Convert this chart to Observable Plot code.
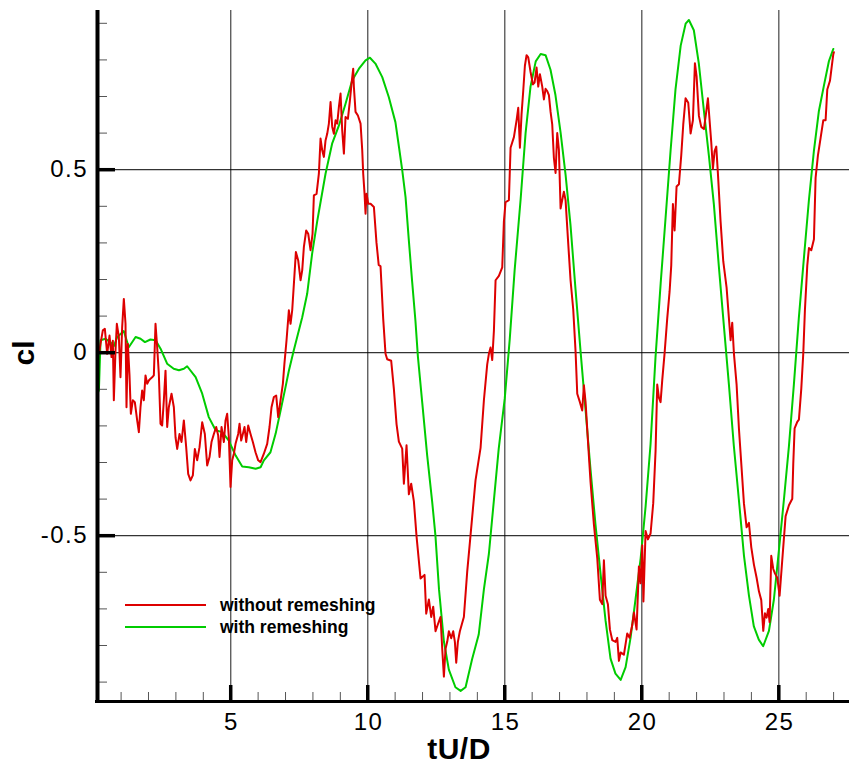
<!DOCTYPE html>
<html><head><meta charset="utf-8">
<script src="https://cdn.jsdelivr.net/npm/d3@7"></script>
<script src="https://cdn.jsdelivr.net/npm/@observablehq/plot@0.6"></script>
<style>
html,body{margin:0;padding:0;background:#fff;overflow:hidden;}
#wrap{position:relative;width:849px;height:765px;font-family:"Liberation Sans",Arial,Helvetica,sans-serif;}
#wrap svg{display:block;}
.lab{position:absolute;font-weight:bold;color:#000;white-space:nowrap;line-height:1;}
.leg{position:absolute;left:125px;width:81px;height:2px;}
</style></head><body><div id="wrap"></div>
<script>
// ---- data ----
const redT = [0.20,0.248,0.334,0.407,0.492,0.577,0.650,0.699,0.735,0.796,0.845,0.918,0.978,1.039,1.100,1.161,1.197,1.246,1.307,1.356,1.428,1.501,1.587,1.648,1.708,1.769,1.830,1.891,1.952,2.012,2.073,2.134,2.195,2.256,2.317,2.377,2.438,2.499,2.560,2.621,2.682,2.742,2.840,2.925,2.986,3.047,3.132,3.205,3.290,3.375,3.448,3.533,3.618,3.691,3.776,3.862,3.959,4.056,4.141,4.227,4.299,4.385,4.470,4.543,4.592,4.665,4.750,4.811,4.871,4.932,4.993,5.054,5.115,5.176,5.273,5.322,5.382,5.443,5.504,5.565,5.638,5.723,5.808,5.905,6.003,6.088,6.210,6.331,6.416,6.489,6.575,6.660,6.733,6.818,6.903,6.96,7.037,7.122,7.183,7.244,7.329,7.378,7.463,7.548,7.609,7.670,7.755,7.828,7.913,7.986,8.035,8.132,8.217,8.278,8.339,8.400,8.460,8.521,8.582,8.643,8.704,8.765,8.826,8.886,8.947,9.008,9.069,9.130,9.190,9.276,9.349,9.409,9.470,9.495,9.555,9.641,9.738,9.799,9.835,9.884,9.920,9.957,10.018,10.103,10.225,10.32,10.40,10.467,10.564,10.649,10.710,10.856,10.954,11.051,11.136,11.258,11.319,11.416,11.501,11.586,11.684,11.781,11.927,12.073,12.134,12.231,12.316,12.389,12.474,12.560,12.657,12.718,12.779,12.839,12.900,12.961,13.046,13.119,13.180,13.229,13.289,13.362,13.508,13.630,13.751,13.934,14.117,14.239,14.360,14.421,14.482,14.543,14.604,14.665,14.786,14.908,14.969,15.029,15.151,15.212,15.334,15.431,15.492,15.553,15.613,15.674,15.735,15.796,15.857,15.942,16.027,16.088,16.161,16.222,16.283,16.368,16.429,16.489,16.550,16.611,16.672,16.733,16.793,16.854,16.915,16.976,17.037,17.097,17.158,17.219,17.304,17.401,17.499,17.584,17.645,17.742,17.827,17.888,17.949,18.034,18.131,18.253,18.375,18.472,18.557,18.618,18.679,18.764,18.837,18.922,19.044,19.105,19.166,19.226,19.348,19.470,19.555,19.653,19.713,19.810,19.895,19.956,20.017,20.06,20.139,20.224,20.321,20.418,20.504,20.564,20.625,20.686,20.747,20.832,20.929,21.014,21.075,21.136,21.197,21.270,21.355,21.440,21.513,21.598,21.696,21.781,21.866,21.939,22.000,22.085,22.170,22.268,22.353,22.413,22.474,22.535,22.596,22.657,22.718,22.778,22.876,22.973,23.095,23.180,23.241,23.301,23.362,23.460,23.545,23.642,23.727,23.825,23.910,23.995,24.092,24.190,24.275,24.360,24.433,24.494,24.555,24.615,24.664,24.725,24.798,24.859,24.944,25.029,25.126,25.248,25.370,25.492,25.528,25.577,25.674,25.734,25.820,25.893,25.954,26.039,26.100,26.185,26.282,26.343,26.428,26.526,26.623,26.708,26.769,26.867,26.927,26.988,27.01];
const redCl = [0.000,0.024,0.061,0.065,-0.003,0.047,-0.012,0.033,-0.130,0.006,0.079,0.043,-0.067,0.070,0.147,0.079,-0.149,0.024,-0.062,-0.167,-0.130,-0.135,-0.185,-0.217,-0.149,-0.103,-0.130,-0.062,-0.085,-0.076,-0.071,-0.067,-0.062,0.079,0.015,-0.058,-0.194,-0.199,-0.130,-0.049,-0.203,-0.149,-0.112,-0.149,-0.231,-0.263,-0.222,-0.244,-0.185,-0.258,-0.331,-0.349,-0.335,-0.263,-0.294,-0.258,-0.190,-0.222,-0.308,-0.285,-0.244,-0.222,-0.203,-0.226,-0.285,-0.203,-0.244,-0.185,-0.167,-0.231,-0.367,-0.294,-0.276,-0.249,-0.222,-0.194,-0.240,-0.222,-0.203,-0.244,-0.199,-0.222,-0.244,-0.272,-0.294,-0.299,-0.276,-0.249,-0.203,-0.149,-0.121,-0.117,-0.176,-0.130,-0.085,-0.030,0.034,0.116,0.079,0.116,0.216,0.275,0.252,0.198,0.225,0.289,0.334,0.325,0.280,0.325,0.430,0.434,0.489,0.585,0.553,0.535,0.580,0.598,0.626,0.685,0.617,0.598,0.635,0.626,0.671,0.708,0.607,0.544,0.644,0.639,0.689,0.735,0.776,0.726,0.658,0.648,0.626,0.553,0.489,0.434,0.380,0.434,0.407,0.407,0.398,0.300,0.240,0.236,0.093,-0.003,-0.018,-0.022,-0.099,-0.195,-0.243,-0.262,-0.358,-0.253,-0.387,-0.358,-0.406,-0.502,-0.617,-0.607,-0.713,-0.674,-0.722,-0.694,-0.761,-0.742,-0.722,-0.809,-0.885,-0.809,-0.790,-0.761,-0.780,-0.761,-0.790,-0.847,-0.790,-0.761,-0.722,-0.598,-0.499,-0.348,-0.260,-0.130,-0.032,-0.003,0.014,-0.020,0.060,0.198,0.210,0.233,0.359,0.411,0.417,0.560,0.589,0.635,0.669,0.560,0.652,0.715,0.784,0.813,0.807,0.767,0.733,0.738,0.779,0.727,0.761,0.727,0.692,0.721,0.715,0.704,0.658,0.623,0.532,0.491,0.600,0.554,0.394,0.417,0.440,0.417,0.313,0.198,0.118,0.003,-0.112,-0.135,-0.158,-0.089,-0.135,-0.239,-0.354,-0.469,-0.561,-0.675,-0.687,-0.567,-0.664,-0.687,-0.756,-0.785,-0.790,-0.779,-0.842,-0.819,-0.825,-0.767,-0.779,-0.744,-0.710,-0.756,-0.584,-0.630,-0.526,-0.680,-0.487,-0.510,-0.494,-0.411,-0.267,-0.087,-0.123,-0.135,-0.075,-0.002,0.094,0.166,0.238,0.406,0.334,0.454,0.460,0.539,0.623,0.695,0.683,0.599,0.635,0.791,0.755,0.647,0.617,0.611,0.659,0.695,0.635,0.575,0.503,0.551,0.563,0.490,0.358,0.250,0.178,0.094,0.034,0.082,-0.002,-0.087,-0.207,-0.315,-0.411,-0.477,-0.465,-0.531,-0.579,-0.615,-0.652,-0.676,-0.760,-0.712,-0.724,-0.700,-0.736,-0.555,-0.591,-0.603,-0.615,-0.664,-0.567,-0.447,-0.417,-0.399,-0.303,-0.207,-0.189,-0.183,-0.099,-0.002,0.118,0.238,0.286,0.280,0.310,0.478,0.539,0.587,0.635,0.635,0.719,0.743,0.779,0.815,0.821];
const greenT = [0.15,0.19,0.25,0.43,0.61,0.73,0.86,1.10,1.28,1.53,1.71,1.87,2.07,2.26,2.44,2.68,2.92,3.11,3.29,3.41,3.72,3.96,4.20,4.45,4.69,4.93,5.18,5.42,5.66,5.91,6.09,6.21,6.45,6.64,6.82,7.00,7.12,7.30,7.61,7.79,7.97,8.16,8.46,8.70,8.95,9.19,9.43,9.68,9.92,10.08,10.28,10.53,10.77,11.01,11.14,11.26,11.38,11.50,11.62,11.74,11.83,11.99,12.17,12.35,12.47,12.60,12.78,12.96,13.20,13.39,13.57,13.81,14.05,14.24,14.42,14.60,14.78,15.00,15.18,15.36,15.58,15.76,15.94,16.13,16.31,16.49,16.67,16.85,17.04,17.22,17.40,17.58,17.77,17.95,18.13,18.31,18.50,18.68,18.86,19.04,19.23,19.41,19.59,19.77,19.96,20.14,20.32,20.50,20.69,20.87,21.05,21.23,21.42,21.60,21.72,21.90,22.08,22.27,22.45,22.63,22.81,23.00,23.18,23.36,23.54,23.73,23.91,24.09,24.27,24.43,24.64,24.82,25.00,25.19,25.37,25.55,25.73,25.92,26.10,26.28,26.46,26.65,26.83,26.99];
const greenCl = [-0.110,-0.103,0.034,0.038,0.029,0.017,0.043,0.059,0.015,0.043,0.038,0.029,0.036,0.034,0.011,-0.030,-0.044,-0.048,-0.044,-0.037,-0.067,-0.112,-0.176,-0.212,-0.217,-0.240,-0.281,-0.311,-0.313,-0.317,-0.313,-0.294,-0.272,-0.221,-0.158,-0.094,-0.050,0.006,0.097,0.161,0.270,0.361,0.489,0.571,0.621,0.680,0.744,0.776,0.799,0.806,0.790,0.753,0.698,0.630,0.562,0.498,0.425,0.307,0.195,0.088,-0.010,-0.137,-0.281,-0.406,-0.499,-0.646,-0.789,-0.866,-0.914,-0.924,-0.914,-0.837,-0.770,-0.646,-0.550,-0.406,-0.262,-0.125,0.035,0.225,0.420,0.600,0.727,0.796,0.816,0.813,0.773,0.704,0.600,0.486,0.348,0.175,0.000,-0.158,-0.319,-0.469,-0.607,-0.733,-0.836,-0.877,-0.894,-0.859,-0.779,-0.675,-0.561,-0.420,-0.250,-0.014,0.190,0.370,0.551,0.719,0.839,0.899,0.909,0.881,0.791,0.659,0.538,0.406,0.238,0.070,-0.087,-0.255,-0.399,-0.555,-0.663,-0.748,-0.784,-0.802,-0.760,-0.675,-0.543,-0.399,-0.255,-0.087,0.094,0.262,0.418,0.551,0.659,0.731,0.797,0.830];
const seriesNames = ["without remeshing", "with remeshing"];
const seriesColors = ["#dd0000", "#00cc00"];
const xMajorTicks = [5, 10, 15, 20, 25];
const xMinorTicks = [1,2,3,4,6,7,8,9,11,12,13,14,16,17,18,19,21,22,23,24,26,27];
const yMajorTicks = [-0.5, 0, 0.5];
const yMinorTicks = [-0.9,-0.8,-0.7,-0.6,-0.4,-0.3,-0.2,-0.1,0.1,0.2,0.3,0.4,0.6,0.7,0.8,0.9];
const xDomain = [0.139, 27.58];
const yDomain = [-0.953, 0.935];
const xTitle = "tU/D";
const yTitle = "cl";

// ---- build ----
const red = redT.map((t, i) => ({t, cl: redCl[i]}));
const green = greenT.map((t, i) => ({t, cl: greenCl[i]}));
const FONT = '"Liberation Sans", Arial, Helvetica, sans-serif';

const chart = Plot.plot({
  width: 849, height: 765,
  marginLeft: 97, marginRight: 0, marginTop: 10, marginBottom: 64,
  style: {fontFamily: FONT, background: "white", color: "black", overflow: "visible", letterSpacing: "1.5px"},
  x: {domain: xDomain, axis: null},
  y: {domain: yDomain, axis: null},
  marks: [
    Plot.ruleX(xMajorTicks, {x: d => d, stroke: "#5e5e5e", strokeWidth: 1.4}),
    Plot.ruleY(yMajorTicks, {y: d => d, stroke: "#000", strokeWidth: 1}),
    Plot.line(green, {x: "t", y: "cl", stroke: seriesColors[1], strokeWidth: 2}),
    Plot.line(red, {x: "t", y: "cl", stroke: seriesColors[0], strokeWidth: 2}),
    // minor ticks (inward)
    Plot.ruleY(yMinorTicks, {y: d => d, x1: () => xDomain[0], x2: () => xDomain[0], insetRight: -10, stroke: "#555", strokeWidth: 1}),
    Plot.ruleX(xMinorTicks, {x: d => d, y1: () => yDomain[0], y2: () => yDomain[0], insetBottom: 9, stroke: "#555", strokeWidth: 1}),
    // major ticks (inward, thick)
    Plot.ruleY(yMajorTicks, {y: d => d, x1: () => xDomain[0], x2: () => xDomain[0], insetRight: -18, stroke: "#000", strokeWidth: 3.5}),
    Plot.ruleX(xMajorTicks, {x: d => d, y1: () => yDomain[0], y2: () => yDomain[0], insetBottom: 16, stroke: "#000", strokeWidth: 3.5}),
    // axis lines
    Plot.ruleX([xDomain[0]], {x: d => d, stroke: "#000", strokeWidth: 4, insetBottom: -2}),
    Plot.ruleY([yDomain[0]], {y: d => d, stroke: "#000", strokeWidth: 3, insetLeft: -2}),
    // tick labels
    Plot.text(yMajorTicks, {y: d => d, frameAnchor: "left", textAnchor: "end", dx: -9.5, text: d => String(d), fontSize: 24, fill: "#000"}),
    Plot.text(xMajorTicks, {x: d => d, frameAnchor: "bottom", lineAnchor: "top", dx: 0.75, dy: 11, text: d => String(d), fontSize: 24, fill: "#000"})
  ]
});

const wrap = document.getElementById("wrap");
wrap.appendChild(chart);

function addLabel(text, css) {
  const d = document.createElement("div");
  d.className = "lab";
  d.textContent = text;
  Object.assign(d.style, css);
  wrap.appendChild(d);
  return d;
}
addLabel(yTitle, {left: "24px", top: "353px", fontSize: "30px", transform: "translate(-50%,-50%) rotate(-90deg)"});
addLabel(xTitle, {left: "459px", top: "748px", fontSize: "30px", lineHeight: "0.7", letterSpacing: "0.5px", transform: "translate(-50%,-50%)"});

seriesNames.forEach((name, i) => {
  const y = 605 + i * 22;
  const l = document.createElement("div");
  l.className = "leg";
  l.style.top = (y - 1) + "px";
  l.style.background = seriesColors[i];
  wrap.appendChild(l);
  addLabel(name, {left: "220px", top: (y + 1) + "px", fontSize: "17.5px", transform: "translateY(-50%)"});
});
</script>
</body></html>
